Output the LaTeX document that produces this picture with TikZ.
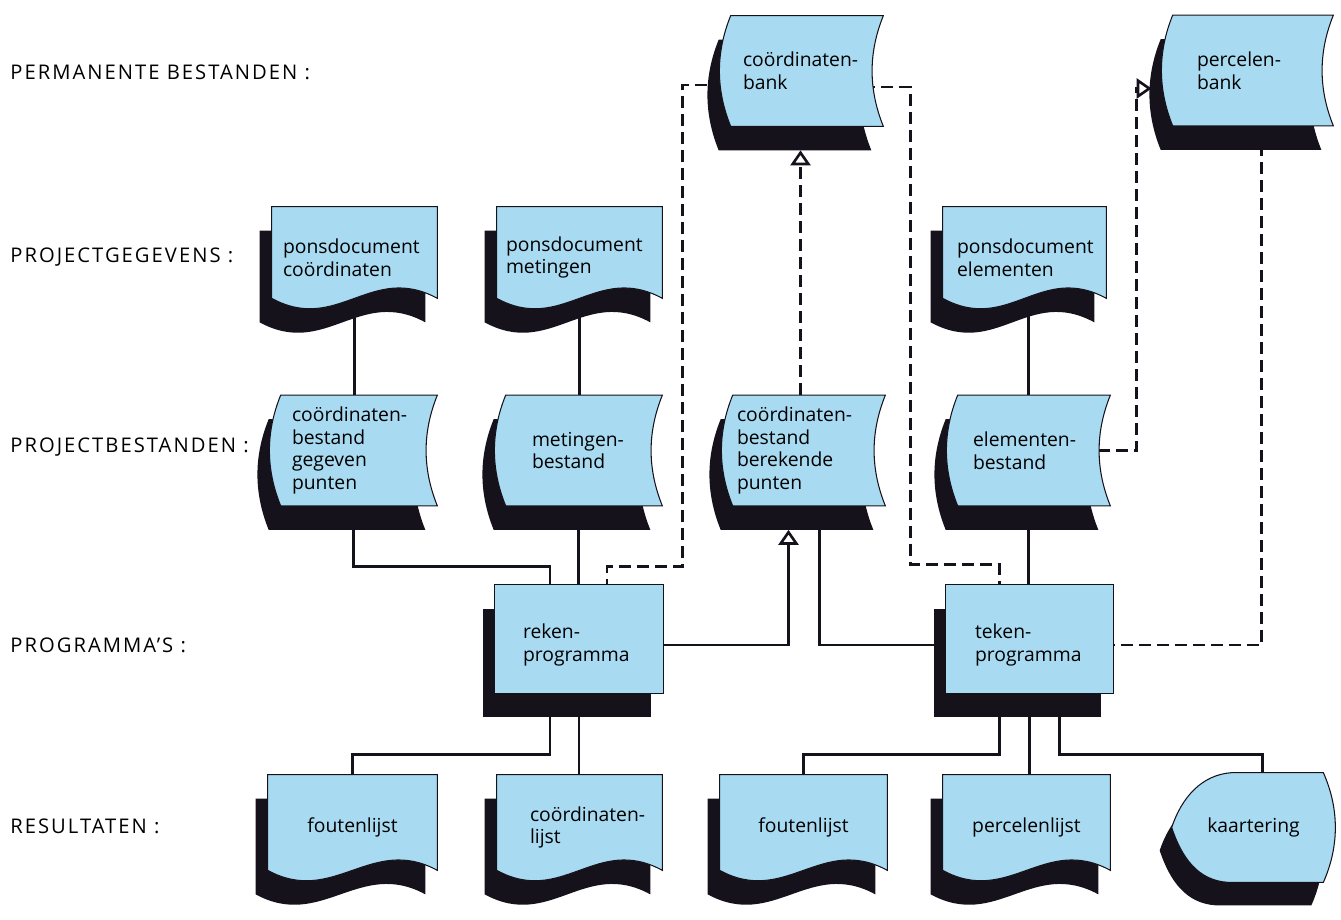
\documentclass[tikz,border=0pt]{standalone}
\usepackage{fontspec}
\setmainfont{Open Sans}
\newfontfamily\rowface[LetterSpace=10]{Open Sans}
\usetikzlibrary{calc,arrows.meta}

\pgfdeclarelayer{lines}
\pgfdeclarelayer{shapes}
\pgfsetlayers{lines,shapes,main}

\definecolor{cardblue}{RGB}{168,219,241}
\definecolor{shade}{RGB}{22,18,28}

\newcommand\cardfont{\fontsize{11}{13}\selectfont\hyphenpenalty=10000\exhyphenpenalty=10000}
\newcommand\rowfont{\rowface\fontsize{11.5}{13}\selectfont}

% stored data: bent left side, hollow right side
\newcommand\storeshape[1]{%
  \begin{pgfonlayer}{shapes}
    \fill[shadow] ([shift={(-1,24)}]#1.north west) -- ([shift={(-12,24)}]#1.north east)
      .. controls +(-15,37) and +(-15,-37) .. ([shift={(-12,24)}]#1.south east)
      -- ([shift={(-1,24)}]#1.south west) .. controls +(-15,-37) and +(-15,37) .. ([shift={(-1,24)}]#1.north west) -- cycle;
    \filldraw[front] ([shift={(11,0)}]#1.north west) -- (#1.north east)
      .. controls +(-15,37) and +(-15,-37) .. (#1.south east)
      -- ([shift={(11,0)}]#1.south west) .. controls +(-15,-37) and +(-15,37) .. ([shift={(11,0)}]#1.north west) -- cycle;
  \end{pgfonlayer}}

% document: wavy bottom
\newcommand\docshape[1]{%
  \begin{pgfonlayer}{shapes}
    \fill[shadow] ([shift={(-12,24)}]#1.north west) -- ([shift={(-12,24)}]#1.north east)
      -- ([shift={(-12,14)}]#1.south east) .. controls +(-66,-36) and +(66,36) .. ([shift={(-12,14)}]#1.south west) -- cycle;
    \filldraw[front] (#1.north west) -- (#1.north east)
      -- ([shift={(0,-10)}]#1.south east) .. controls +(-66,-36) and +(66,36) .. ([shift={(0,-10)}]#1.south west) -- cycle;
  \end{pgfonlayer}}

% program: plain box, text sits a little low in it
\newcommand\progshape[1]{%
  \begin{pgfonlayer}{shapes}
    \fill[shadow] ([shift={(-12,18)}]#1.north west) rectangle ([shift={(-12,18)}]#1.south east);
    \filldraw[front] ([shift={(0,-6)}]#1.north west) rectangle ([shift={(0,-6)}]#1.south east);
  \end{pgfonlayer}}

% display
\newcommand\dispshape[1]{%
  \begin{pgfonlayer}{shapes}
    \fill[shadow] ([shift={(48,23)}]#1.north west) -- ([shift={(-24,23)}]#1.north east)
      .. controls +(16,36) and +(16,-36) .. ([shift={(-24,23)}]#1.south east)
      -- ([shift={(44,23)}]#1.south west) .. controls +(-30,-2) and +(10,30) .. ([shift={(-12,23)}]#1.west)
      .. controls +(10,-30) and +(-30,2) .. ([shift={(48,23)}]#1.north west) -- cycle;
    \filldraw[front] ([shift={(60,0)}]#1.north west) -- ([shift={(-12,0)}]#1.north east)
      .. controls +(16,36) and +(16,-36) .. ([shift={(-12,0)}]#1.south east)
      -- ([shift={(56,0)}]#1.south west) .. controls +(-30,-2) and +(10,30) .. (#1.west)
      .. controls +(10,-30) and +(-30,2) .. ([shift={(60,0)}]#1.north west) -- cycle;
  \end{pgfonlayer}}

\begin{document}
\begin{tikzpicture}[x=0.02cm, y=-0.02cm,
    front/.style={fill=cardblue, draw=shade, line width=0.6pt},
    shadow/.style={fill=shade},
    card/.style={inner sep=0pt, minimum width=3.3cm, align=left, font=\cardfont},
    store/.style={card, minimum height=2.2cm},
    doc/.style={card, minimum height=2.02cm},
    prog/.style={card, minimum height=2.16cm},
    result/.style={card, minimum height=2.1cm},
    row/.style={anchor=west, inner sep=0pt, font=\rowfont},
    link/.style={draw=shade, line width=1.5pt},
    dashlink/.style={link, dash pattern=on 0.24cm off 0.12cm},
    opentip/.style={-{Triangle[open, length=0.3cm, width=0.4cm]}}
  ]
  \useasboundingbox (0,0) rectangle (1341,919);

  % row captions
  \node[row] (permrow) at (10,72) {PERMANENTE BESTANDEN :};
  \node[row] (gegrow) at (10,257) {PROJECTGEGEVENS :};
  \node[row] (bestrow) at (10,447) {PROJECTBESTANDEN :};
  \node[row] (progrow) at (10,645) {PROGRAMMA’S :};
  \node[row] (resrow) at (10,826) {RESULTATEN :};

  % permanente bestanden
  \node[store, minimum width=3.26cm, text width=2.34cm] (coordbank) at (801.5,71) {coördinaten-\\bank};
  \node[store, minimum width=3.42cm, text width=2.02cm] (percbank) at (1247.5,70.5) {percelen-\\bank};

  % projectgegevens
  \node[doc, text width=2.86cm] (ponscoord) at (354.5,257.5) {ponsdocument\\coördinaten};
  \node[doc, text width=2.94cm] (ponsmeting) at (579.5,257.5) {ponsdocument\\metingen};
  \node[doc, minimum width=3.26cm, text width=2.7cm] (ponselem) at (1024.5,257.5) {ponsdocument\\elementen};

  % projectbestanden
  \node[store, minimum width=3.34cm, text width=2.46cm] (bestgegeven) at (353.5,450.5) {coördinaten-\\bestand\\gegeven\\punten};
  \node[store, minimum width=3.34cm, text width=1.86cm] (bestmeting) at (578.5,450.5) {metingen-\\bestand};
  \node[store, minimum width=3.26cm, text width=2.66cm] (bestberekend) at (803.5,450.5) {coördinaten-\\bestand\\berekende\\punten};
  \node[store, minimum width=3.26cm, text width=2.22cm] (bestelem) at (1028.5,450.5) {elementen-\\bestand};

  % programma's
  \node[prog, minimum width=3.36cm, text width=2.24cm] (rekenprog) at (579,645) {reken-\\programma};
  \node[prog, minimum width=3.34cm, text width=2.18cm] (tekenprog) at (1029.5,645) {teken-\\programma};

  % resultaten
  \node[result, minimum width=3.38cm, align=center] (fouten1) at (352.5,827.5) {foutenlijst};
  \node[result, text width=1.98cm] (coordlijst) at (579.5,827.5) {coördinaten-\\lijst};
  \node[result, minimum width=3.34cm, align=center] (fouten2) at (803.5,827.5) {foutenlijst};
  \node[result, minimum width=3.34cm, align=center] (perclijst) at (1026.5,827.5) {percelenlijst};
  \node[result, minimum width=3.26cm, minimum height=2.18cm, align=center] (kaartering) at (1253.5,827.5) {kaartering};

  \storeshape{coordbank}
  \storeshape{percbank}
  \docshape{ponscoord}
  \docshape{ponsmeting}
  \docshape{ponselem}
  \storeshape{bestgegeven}
  \storeshape{bestmeting}
  \storeshape{bestberekend}
  \storeshape{bestelem}
  \progshape{rekenprog}
  \progshape{tekenprog}
  \docshape{fouten1}
  \docshape{coordlijst}
  \docshape{fouten2}
  \docshape{perclijst}
  \dispshape{kaartering}

  \begin{pgfonlayer}{lines}
    \draw[link] (ponscoord) -- (ponscoord |- bestgegeven);
    \draw[link] (ponsmeting) -- (ponsmeting |- bestmeting);
    \draw[link] (bestelem) -- (bestelem |- ponselem);
    \draw[link] (bestgegeven) |- ($(rekenprog.north)+(-29,-24)$) -- (rekenprog.north -| {$(rekenprog.north)+(-29,0)$});
    \draw[link] (bestmeting) -- (bestmeting |- rekenprog);
    \draw[dashlink] ($(rekenprog.north)+(28,0)$) -- ($(rekenprog.north)+(28,-24)$)
      -| ($(coordbank.west)+(-37,14)$) -- ($(coordbank.west)+(0,14)$);
    \draw[dashlink] ($(coordbank.east)+(-20,16)$) -| ($(tekenprog.north)+(-119,-26)$)
      -| ($(tekenprog.north)+(-30,0)$);
    \draw[dashlink, opentip] ($(bestberekend.north)+(-3,0)$) -- ($(coordbank.south)+(-1,24)$);
    \draw[link, opentip] ($(rekenprog.east)+(-5,0)$) -| ($(bestberekend.south)+(-15,24)$);
    \draw[link] ($(bestberekend.south)+(16,0)$) |- (tekenprog.west);
    \draw[link] (bestelem) -- (bestelem |- tekenprog);
    \draw[dashlink, opentip] ($(bestelem.east)+(-12,0)$) -| ($(percbank.west)+(-25,18)$) -- ($(percbank.west)+(-10,18)$);
    \draw[dashlink] ($(percbank.south)+(14,0)$) |- ($(tekenprog.east)+(-5,0)$);
    \draw[link] ($(rekenprog.south)+(-29,0)$) |- ($(fouten1.north)+(0,-20)$) -- (fouten1.north);
    \draw[link] (rekenprog) -- (rekenprog |- coordlijst);
    \draw[link] ($(tekenprog.south)+(-30,0)$) |- ($(fouten2.north)+(0,-20)$) -- (fouten2.north);
    \draw[link] (tekenprog) -- (tekenprog |- perclijst);
    \draw[link] ($(tekenprog.south)+(30,0)$) |- ($(kaartering.north)+(9,-18)$) -- ($(kaartering.north)+(9,0)$);
  \end{pgfonlayer}
\end{tikzpicture}
\end{document}
